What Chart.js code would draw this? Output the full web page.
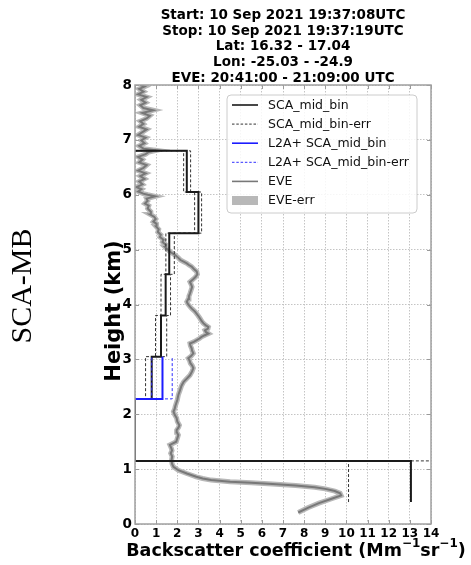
<!DOCTYPE html>
<html><head><meta charset="utf-8">
<script src="https://cdn.jsdelivr.net/npm/chart.js@4.4.0/dist/chart.umd.min.js"></script>
<style>html,body{margin:0;padding:0;background:#fff;}canvas{display:block;}</style>
</head><body>
<canvas id="c" width="471" height="565"></canvas>
<script>
// ---------- data ----------
const titleLines = [
  'Start: 10 Sep 2021 19:37:08UTC',
  'Stop: 10 Sep 2021 19:37:19UTC',
  'Lat: 16.32 - 17.04',
  'Lon: -25.03 - -24.9',
  'EVE: 20:41:00 - 21:09:00 UTC'
];
const rowLabel = 'SCA-MB';
const xTickValues = [0,1,2,3,4,5,6,7,8,9,10,11,12,13,14];
const yTickValues = [0,1,2,3,4,5,6,7,8];

// SCA mid-bin profile (bin edges in km, backscatter in Mm-1 sr-1)
const binEdges   = [0.4, 1.15, 2.28, 3.05, 3.8, 4.55, 5.3, 6.05, 6.8];
const scaMidBin  = [13.05, 0, 0.79, 1.23, 1.45, 1.62, 3.0, 2.45];
const scaErrLow  = [10.1, 0, 0.5, 0.97, 1.23, 1.46, 2.82, 2.3];
const scaErrHigh = [15.5, 0, 1.3, 1.5, 1.68, 1.86, 3.15, 2.63];

// L2A+ SCA mid-bin
const l2aEdges   = [2.28, 3.05];
const l2aMidBin  = [1.3];
const l2aErrLow  = [0.79];
const l2aErrHigh = [1.76];

// EVE profile
const eveHeight = [0.21,0.30,0.38,0.46,0.52,0.56,0.60,0.64,0.67,0.70,0.73,0.75,0.77,0.80,0.83,0.86,0.92,0.98,1.04,1.10,
  1.17,1.23,1.29,1.34,1.38,1.44,1.50,1.56,1.62,1.67,1.71,1.76,1.80,1.87,1.93,1.99,2.05,2.10,2.14,2.20,
  2.26,2.35,2.44,2.52,2.59,2.65,2.71,2.78,2.84,2.89,2.93,2.98,3.02,3.06,3.11,3.16,3.20,3.25,3.29,3.32,
  3.35,3.38,3.41,3.44,3.47,3.50,3.53,3.56,3.59,3.62,3.66,3.70,3.75,3.80,3.87,3.92,3.96,4.01,4.05,4.10,
  4.15,4.20,4.26,4.32,4.37,4.41,4.46,4.50,4.55,4.60,4.64,4.69,4.72,4.75,4.78,4.81,4.85,4.90,4.93,4.96,
  5.00,5.05,5.09,5.14,5.18,5.23,5.27,5.32,5.37,5.42,5.47,5.51,5.56,5.60,5.64,5.69,5.75,5.80,5.84,5.89,
  5.93,5.97,6.00,6.02,6.06,6.10,6.14,6.19,6.24,6.29,6.34,6.39,6.44,6.49,6.54,6.59,6.64,6.69,6.74,6.78,
  6.81,6.84,6.89,6.94,6.99,7.04,7.09,7.14,7.19,7.24,7.29,7.34,7.39,7.44,7.49,7.54,7.58,7.63,7.68,7.73,
  7.78,7.83,7.88,7.93,7.97,8.00];
const eveBsc = [7.72,8.2,8.7,9.3,9.75,9.7,9.45,9.0,8.5,7.6,6.5,5.5,4.5,3.6,3.2,2.9,2.45,2.05,1.82,1.75,
  1.73,1.76,1.69,1.75,1.72,1.65,1.95,2.0,2.05,1.98,1.97,2.06,2.1,2.0,1.97,1.88,1.82,1.88,1.9,1.95,
  2.0,2.05,2.13,2.2,2.3,2.45,2.6,2.7,2.76,2.7,2.62,2.58,2.52,2.65,2.76,2.7,2.68,2.62,2.6,2.78,
  2.92,3.05,3.15,3.3,3.47,3.35,3.31,3.45,3.47,3.35,3.23,3.15,3.07,2.98,2.84,2.7,2.6,2.5,2.45,2.52,
  2.55,2.6,2.65,2.7,2.65,2.6,2.75,2.86,2.95,2.92,2.8,2.68,2.55,2.45,2.3,2.15,2.05,1.9,1.78,1.66,
  1.55,1.42,1.45,1.3,1.35,1.18,1.22,1.08,1.12,1.0,1.02,0.87,0.98,0.9,0.72,0.75,0.6,0.65,0.47,0.6,
  0.55,0.95,0.6,0.39,0.15,0.3,0.08,0.35,0.2,0.45,0.25,0.5,0.15,0.4,0.55,0.2,0.35,0.15,0.5,0.65,
  1.0,0.4,0.2,0.45,0.3,0.5,0.15,0.35,0.55,0.2,0.4,0.25,0.55,0.7,0.35,0.85,0.4,0.25,0.5,0.3,
  0.55,0.15,0.4,0.2,0.45,0.25];

// ---------- helpers ----------
function stepPath(edges, vals, startAtZero, endAtZero) {
  const pts = [];
  if (startAtZero) pts.push({x: 0, y: edges[0]});
  for (let i = 0; i < vals.length; i++) {
    pts.push({x: vals[i], y: edges[i]});
    pts.push({x: vals[i], y: edges[i + 1]});
  }
  if (endAtZero) pts.push({x: 0, y: edges[edges.length - 1]});
  return pts;
}
const evePts = eveHeight.map((h, i) => ({x: eveBsc[i], y: h}));

const common = {showLine: true, pointRadius: 0, pointHoverRadius: 0, tension: 0, fill: false};
const datasets = [
  Object.assign({label: 'SCA_mid_bin', data: stepPath(binEdges, scaMidBin, false, true),
    borderColor: '#1a1a1a', borderWidth: 2, order: 2}, common),
  Object.assign({label: 'SCA_mid_bin-err', data: stepPath(binEdges, scaErrLow, false, true),
    borderColor: '#333333', borderWidth: 1, borderDash: [3, 2], order: 3}, common),
  Object.assign({label: '', data: stepPath(binEdges, scaErrHigh, false, true),
    borderColor: '#333333', borderWidth: 1, borderDash: [3, 2], order: 3}, common),
  Object.assign({label: 'L2A+ SCA_mid_bin', data: stepPath(l2aEdges, l2aMidBin, true, false),
    borderColor: '#1c1cff', borderWidth: 2, order: 0}, common),
  Object.assign({label: 'L2A+ SCA_mid_bin-err', data: stepPath(l2aEdges, l2aErrLow, true, false),
    borderColor: '#3030ff', borderWidth: 1, borderDash: [3, 2], order: 1}, common),
  Object.assign({label: '', data: stepPath(l2aEdges, l2aErrHigh, true, false),
    borderColor: '#3030ff', borderWidth: 1, borderDash: [3, 2], order: 1}, common),
  Object.assign({label: 'EVE', data: evePts, borderColor: '#787878', borderWidth: 2, order: 5}, common),
  Object.assign({label: 'EVE-err', data: evePts, borderColor: '#b8b8b8', borderWidth: 5, order: 6,
    legendBox: true}, common)
];

const FONT = "'DejaVu Sans'";
const decor = {
  id: 'decor',
  beforeDraw(chart) {
    const c = chart.ctx;
    c.save(); c.fillStyle = '#fff'; c.fillRect(0, 0, chart.width, chart.height); c.restore();
  },
  afterDraw(chart) {
    const c = chart.ctx, ca = chart.chartArea, sx = chart.scales.x, sy = chart.scales.y;
    c.save();
    // inward tick marks on all four spines
    c.strokeStyle = '#9a9a9a'; c.lineWidth = 1;
    c.beginPath();
    xTickValues.forEach(v => {
      const px = Math.round(sx.getPixelForValue(v)) + 0.5;
      c.moveTo(px, ca.top); c.lineTo(px, ca.top + 4);
      c.moveTo(px, ca.bottom); c.lineTo(px, ca.bottom - 4);
    });
    yTickValues.forEach(v => {
      const py = Math.round(sy.getPixelForValue(v)) + 0.5;
      c.moveTo(ca.left, py); c.lineTo(ca.left + 4, py);
      c.moveTo(ca.right, py); c.lineTo(ca.right - 4, py);
    });
    c.stroke();
    // frame
    c.strokeStyle = '#a0a0a0'; c.lineWidth = 1.5;
    c.strokeRect(ca.left, ca.top, ca.right - ca.left, ca.bottom - ca.top);
    // legend
    const lx = ca.right - 204, ly = ca.top + 10, lw = 190, lh = 118;
    c.beginPath();
    c.roundRect(lx, ly, lw, lh, 4);
    c.fillStyle = 'rgba(255,255,255,0.85)'; c.fill();
    c.strokeStyle = '#cccccc'; c.lineWidth = 1; c.stroke();
    const items = chart.data.datasets.filter(d => d.label);
    c.font = '12.5px ' + FONT; c.textBaseline = 'middle'; c.textAlign = 'left';
    items.forEach((d, i) => {
      const y = ly + 10 + i * 19.1;
      if (d.legendBox) {
        c.fillStyle = d.borderColor; c.fillRect(lx + 5, y - 4.5, 26, 9);
      } else {
        c.beginPath(); c.strokeStyle = d.borderColor; c.lineWidth = Math.min(d.borderWidth, 1.6);
        c.setLineDash(d.borderDash ? [2.5, 1.8] : []);
        c.moveTo(lx + 5, y); c.lineTo(lx + 31, y); c.stroke(); c.setLineDash([]);
      }
      c.fillStyle = '#111'; c.fillText(d.label, lx + 41, y + 0.5);
    });
    // suptitle
    const cx = (ca.left + ca.right) / 2;
    c.font = 'bold 13.5px ' + FONT; c.textAlign = 'center'; c.fillStyle = '#000';
    titleLines.forEach((t, i) => c.fillText(t, cx, 15.5 + i * 15.7));
    // row label
    c.save(); c.translate(23, 286); c.rotate(-Math.PI / 2);
    c.font = "30px 'Liberation Serif'"; c.textAlign = 'center'; c.fillText(rowLabel, 0, 0); c.restore();
    // y title
    c.save(); c.translate(115, 311); c.rotate(-Math.PI / 2);
    c.font = 'bold 21px ' + FONT; c.textAlign = 'center'; c.fillText('Height (km)', 0, 0); c.restore();
    // x title with superscripts
    const parts = [['Backscatter coefficient (Mm', 0], ['\u22121', 1], ['sr', 0], ['\u22121', 1], [')', 0]];
    const big = 'bold 17.5px ' + FONT, small = 'bold 12px ' + FONT;
    let tw = 0;
    parts.forEach(p => { c.font = p[1] ? small : big; tw += c.measureText(p[0]).width; });
    let x = 296 - tw / 2;
    c.textAlign = 'left';
    parts.forEach(p => { c.font = p[1] ? small : big; c.fillText(p[0], x, p[1] ? 544 : 551); x += c.measureText(p[0]).width; });
    c.restore();
  }
};

new Chart(document.getElementById('c'), {
  type: 'scatter',
  data: {datasets},
  options: {
    responsive: false, animation: false, devicePixelRatio: 1,
    layout: {padding: {top: 85, right: 40, left: 0, bottom: 0}},
    plugins: {legend: {display: false}, title: {display: false}, tooltip: {enabled: false}},
    scales: {
      x: {
        type: 'linear', min: 0, max: 14,
        afterBuildTicks: s => { s.ticks = xTickValues.map(v => ({value: v})); },
        afterFit: s => { s.height = 41; },
        ticks: {color: '#000', font: {family: 'DejaVu Sans', size: 12, weight: 'bold'}, padding: 3,
          maxRotation: 0, autoSkip: false},
        grid: {color: '#c4c4c4', lineWidth: 1, drawTicks: false},
        border: {display: false, dash: [1.5, 1.5]}
      },
      y: {
        type: 'linear', min: 0, max: 8,
        afterBuildTicks: s => { s.ticks = yTickValues.map(v => ({value: v})); },
        afterFit: s => { s.width = 135; },
        ticks: {color: '#000', font: {family: 'DejaVu Sans', size: 13.5, weight: 'bold'}, padding: 3},
        grid: {color: '#c4c4c4', lineWidth: 1, drawTicks: false},
        border: {display: false, dash: [1.5, 1.5]}
      }
    }
  },
  plugins: [decor]
});
</script>
</body></html>
